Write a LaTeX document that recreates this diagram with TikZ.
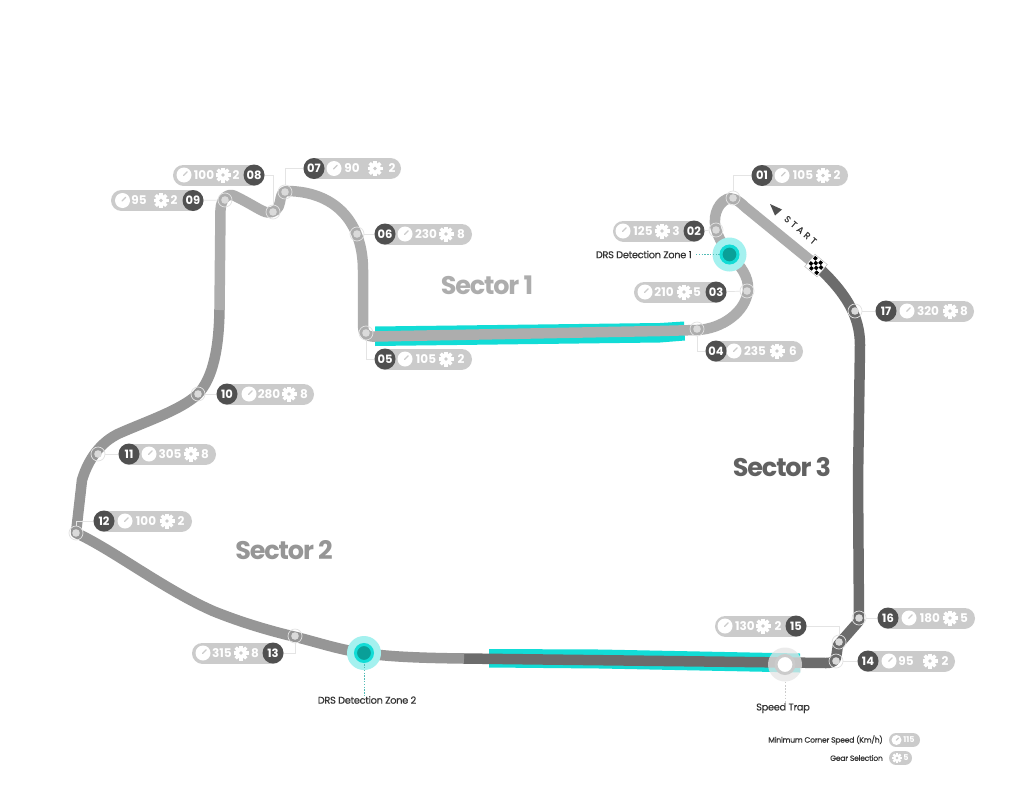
\documentclass[tikz,border=0pt]{standalone}
\usepackage{fontspec}
\setmainfont{Poppins}
\newfontfamily\secfont[LetterSpace=-4.5]{Poppins}
\newfontfamily\smallfont[LetterSpace=-3,FakeBold=0.35]{Poppins}
\newfontfamily\startfont[LetterSpace=34,FakeBold=0.3]{Poppins}
\definecolor{sone}{HTML}{ADADAD}
\definecolor{stwo}{HTML}{969696}
\definecolor{sthree}{HTML}{6C6C6C}
\definecolor{pillc}{HTML}{CBCBCB}
\definecolor{idc}{HTML}{505050}
\definecolor{teal1}{HTML}{12DCD6}
\definecolor{teal2}{HTML}{0A9F98}
\definecolor{teal3}{HTML}{A4F1EF}
\definecolor{leadc}{HTML}{E4E4E4}
\definecolor{inkc}{HTML}{333333}
\definecolor{ringc}{HTML}{E2E2E2}
\definecolor{dotc}{HTML}{DADADA}
\tikzset{
  x=1pt,y=-1pt,
  trk/.style={line width=10.5pt,line join=round},
  turn/.style={circle,draw=ringc,line width=.7pt,minimum size=14pt,inner sep=0pt,path picture={\fill[dotc] (path picture bounding box.center) circle (3.8pt);}},
  idnode/.style={circle,fill=idc,minimum size=21pt,inner sep=0pt,text=white,font=\bfseries\fontsize{11.5}{12}\selectfont},
  speedt/.style={text=white,inner sep=0pt,font=\bfseries\fontsize{12}{12}\selectfont},
  leader/.style={draw=leadc,line width=.7pt},
  tealdot/.style={draw=teal2!70,line width=.8pt,dash pattern=on 1.4pt off 1.4pt},
  graydot/.style={draw=pillc,line width=.8pt,dash pattern=on 1.6pt off 1.6pt},
  smalltxt/.style={text=inkc,inner sep=0pt,font=\smallfont\fontsize{9.8}{10}\selectfont},
  sectxt/.style={inner sep=0pt,font=\secfont\bfseries\fontsize{25.5}{26}\selectfont}
}
\newcommand{\gaugeicon}[3]{%
  \fill[white] (#1,#2) circle (#3);
  \draw[pillc,line width=1.1pt,line cap=round] (#1-.05*#3,#2+.05*#3) -- (#1+.42*#3,#2-.42*#3);}
\newcommand{\gearicon}[3]{%
  \fill[white] (#1,#2) circle (.76*#3);
  \foreach \ang in {0,45,90,135}{\draw[white,line width=.46*#3] ({#1-cos(\ang)*#3},{#2-sin(\ang)*#3}) -- ({#1+cos(\ang)*#3},{#2+sin(\ang)*#3});}
  \fill[pillc] (#1,#2) circle (.26*#3);}
\begin{document}
\begin{tikzpicture}
\useasboundingbox (0,0) rectangle (1011,784);
\fill[white] (0,0) rectangle (1011,784);
% teal DRS strips
\fill[teal1] (375,326.5) -- (660,323) -- (684,321.5) -- (685,340.5) -- (660,342.5) -- (375,346) -- cycle;
\fill[teal1] (489,649) -- (600,649.5) -- (800,653.5) -- (800,672.5) -- (600,668.5) -- (489,667.5) -- cycle;
% sector 3
\draw[trk,sthree] (463,658.5) -- (826,663) .. controls (834,663) and (836,660) .. (836.5,655) -- (838,645) -- (859,621) -- (858,480) -- (860,345) .. controls (860,315) and (845,292) .. (816,265);
% sector 2
\draw[trk,stwo] (219.5,309) .. controls (219,345) and (214,378) .. (197,395) .. controls (180,410) and (150,420) .. (120,433) .. controls (100,442) and (88,460) .. (82,480) -- (76,533) .. controls (110,548) and (165,590) .. (213,611) .. controls (240,622) and (270,631) .. (296,637) .. controls (320,643) and (340,650) .. (364,653) .. controls (390,657) and (425,658) .. (464,658.5);
% sector 1
\draw[trk,sone] (816,265) -- (745,207) .. controls (737,199) and (731,197) .. (727,199) .. controls (716,204) and (712,220) .. (717,232) .. controls (720,242) and (727,250) .. (732,257) .. controls (740,266) and (749,276) .. (748,290) .. controls (746,312) and (722,329) .. (697,330) -- (660,331) -- (375,336.5) -- (372,336.5) .. controls (366,336.5) and (363,332) .. (363,326) -- (363,270) .. controls (363,225) and (338,192) .. (288,191) .. controls (281,191) and (281,197) .. (280,202) .. controls (279,209) and (274,213) .. (268,212.5) .. controls (262,212) and (255,206) .. (235,196) .. controls (228,192.5) and (221,198) .. (220.5,210) -- (219.5,310);
% corner markers
\foreach \n/\x/\y in {01/733/198,02/716/230,03/747/291,04/697/329,05/366/333,06/357/234,07/285/192,08/273/212,09/225/200,10/198/394,11/98/454,12/76/533,13/295/636,14/836/661,15/839/642,16/859/618,17/855/311}{
  \node[turn] (t\n) at (\x,\y) {};
}
% labels
\foreach \n/\y/\cx/\pe/\gx/\sp/\tx/\grx/\nx/\nn in {
 01/175.5/762/837.5/782/105/803/823/837/2,
 02/231/694/623.5/623/125/643/662/676/3,
 03/292/716/644.5/645/210/664/684/697/5,
 04/351/716/792.5/734/235/755/777/793/6,
 05/359/385/461.5/405/105/426/446/461/2,
 06/234/385/461.5/405/230/426/446/461/8,
 07/168.5/314/390.5/334/90/352/375/392/2,
 08/175/254/183.5/184/100/204/223/236/2,
 09/200.5/193/121.5/122.5/95/139/161/174/2,
 10/394/227/303.5/249/280/269/289/304/8,
 11/454/129/205.5/149/305/170/191/205/8,
 12/521/104/181.5/125/100/146/167/181/2,
 13/653/273/202.5/203/315/222/241/255/8,
 14/661/868/944.5/889/95/906/930/945/2,
 15/626/796/725.5/725/130/745/763/778/2,
 16/618/888/964.5/909/180/930/950/964/5,
 17/311/886/963.5/907/320/928/950/964/8}{
  \draw[pillc,line width=21pt,line cap=round] (\cx,\y) -- (\pe,\y);
  \gaugeicon{\gx}{\y}{7.5}
  \node[speedt] (sp\n) at (\tx,\y) {\sp};
  \gearicon{\grx}{\y}{7.5}
  \node[speedt] (gr\n) at (\nx,\y) {\nn};
  \node[idnode] (c\n) at (\cx,\y) {\n};
}
% leaders
\draw[leader] (t01) |- (c01);
\draw[leader] (t02) -- (c02);
\draw[leader] (t03) -- (c03);
\draw[leader] (t04) |- (c04);
\draw[leader] (t05) |- (c05);
\draw[leader] (t06) -- (c06);
\draw[leader] (t07) |- (c07);
\draw[leader] (t08) |- (c08);
\draw[leader] (t09) -- (c09);
\draw[leader] (t10) -- (c10);
\draw[leader] (t11) -- (c11);
\draw[leader] (t12) |- (c12);
\draw[leader] (t13) |- (c13);
\draw[leader] (t14) -- (c14);
\draw[leader] (t15) |- (c15);
\draw[leader] (t16) -- (c16);
\draw[leader] (t17) -- (c17);
% DRS zones
\node[circle,fill=teal3,minimum size=34pt,inner sep=0pt] (halo1) at (729.5,254.5) {};
\node[smalltxt,anchor=east] (drslab1) at (692,254.5) {DRS Detection Zone 1};
\draw[tealdot] (drslab1.east) ++(4,0) -- (halo1.center);
\node[circle,fill=teal2,draw=teal1,line width=3pt,minimum size=17pt,inner sep=0pt] (drs1) at (729.5,254.5) {};
\node[circle,fill=teal3,minimum size=34pt,inner sep=0pt] (halo2) at (364,653) {};
\node[smalltxt,anchor=north] (drslab2) at (367,696) {DRS Detection Zone 2};
\draw[tealdot] (halo2.center) -- (halo2.center |- drslab2.north);
\node[circle,fill=teal2,draw=teal1,line width=3pt,minimum size=17pt,inner sep=0pt] (drs2) at (364,653) {};
% speed trap
\node[circle,fill=black!10,fill opacity=.75,minimum size=34pt,inner sep=0pt] (halo3) at (785,664.5) {};
\node[circle,fill=white,draw=pillc,line width=3pt,minimum size=18pt,inner sep=0pt] (trap) at (785,664.5) {};
\node[smalltxt,anchor=north] (traplab) at (783,703) {Speed Trap};
\draw[graydot] (halo3) -- (halo3 |- traplab.north);
% sector names
\node[sectxt,text=sone] (sec1) at (487,285) {Sector 1};
\node[sectxt,text=stwo] (sec2) at (284,550) {Sector 2};
\node[sectxt,text=sthree!90!black] (sec3) at (782,467) {Sector 3};
% start
\fill[idc] (770,204) -- (782,209.5) -- (775,215.5) -- cycle;
\node[rotate=-40,inner sep=0pt,text=inkc,font=\startfont\fontsize{9}{9}\selectfont] (startlab) at (800.5,230) {START};
% flag
\begin{scope}[shift={(816,265.5)},rotate=-40]
  \fill[white,draw=black!30,line width=.4pt] (-8,-8) rectangle (8,8);
  \foreach \i in {0,1,2,3}{\foreach \j in {0,1,2,3}{
    \pgfmathparse{int(mod(\i+\j,2))}
    \ifnum\pgfmathresult=0 \fill[black] ({-6.8+3.4*\i},{-6.8+3.4*\j}) rectangle ++(3.4,3.4);\fi
  }}
\end{scope}
% legend
\node[smalltxt,anchor=east,font=\smallfont\fontsize{7.6}{9}\selectfont] (leg1) at (883,740) {Minimum Corner Speed (Km/h)};
\draw[pillc,line width=14pt,line cap=round] (896,740) -- (913,740);
\gaugeicon{896.5}{740}{5}
\node[speedt,font=\bfseries\fontsize{8}{9}\selectfont] (legs) at (909,740) {115};
\node[smalltxt,anchor=east,font=\smallfont\fontsize{7.6}{9}\selectfont] (leg2) at (883,758) {Gear Selection};
\draw[pillc,line width=14pt,line cap=round] (896,758) -- (905,758);
\gearicon{897}{758}{5}
\node[speedt,font=\bfseries\fontsize{8}{9}\selectfont] (legg) at (906,758) {5};
\end{tikzpicture}
\end{document}
